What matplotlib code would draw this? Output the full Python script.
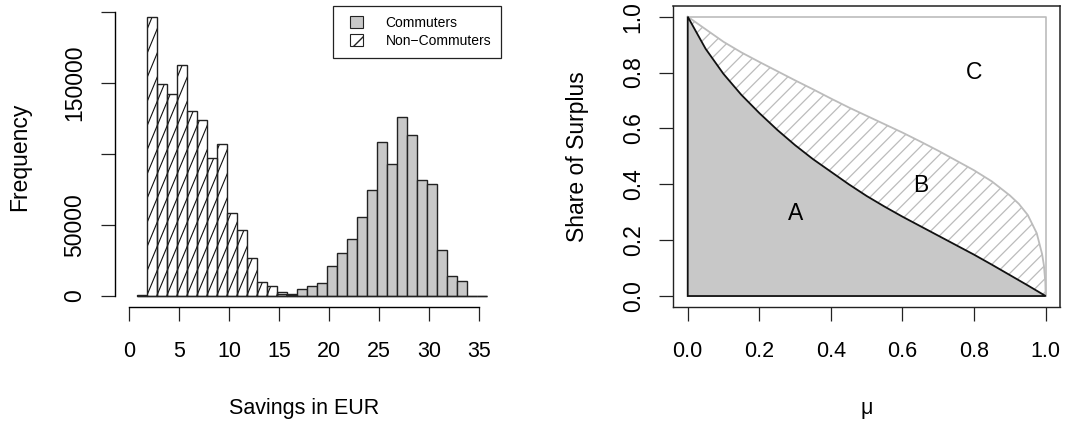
import numpy as np
import matplotlib
matplotlib.use("Agg")
import matplotlib.pyplot as plt
from matplotlib.collections import LineCollection
from matplotlib.path import Path
from matplotlib.patches import Polygon, Patch, Rectangle
from matplotlib.legend_handler import HandlerPatch

plt.rcParams['font.family'] = ['Liberation Sans', 'DejaVu Sans']

# savings histogram, 1 EUR bins
bin_start = 0.74
n_bins = 35
non_commuters = [1000, 196000, 149300, 142300, 162300, 129900, 123600, 97300,
                 106900, 58400, 46600, 26900, 9800, 7000, 2800, 1000] + [0] * 19
commuters = [0] * 13 + [300, 1200, 1500, 5100, 7000, 9400, 21100, 30000, 40100,
                        55800, 74300, 108500, 93100, 125700, 113500, 81400, 78600,
                        32400, 14300, 10600, 200, 100]
hist_labels = ["Commuters", "Non\u2212Commuters"]

# surplus split over mu
mu = [0.0, 0.05, 0.1, 0.15, 0.2, 0.25, 0.3, 0.35, 0.4, 0.45, 0.5, 0.55, 0.6,
      0.65, 0.7, 0.75, 0.8, 0.85, 0.9, 0.95, 1.0]
share_a = [1.0, 0.885, 0.795, 0.72, 0.655, 0.595, 0.54, 0.49, 0.445, 0.40,
           0.358, 0.32, 0.284, 0.25, 0.216, 0.182, 0.148, 0.112, 0.075, 0.038, 0.0]
mu_b = [0.0, 0.05, 0.1, 0.15, 0.2, 0.25, 0.3, 0.35, 0.4, 0.45, 0.5, 0.55, 0.6,
        0.65, 0.7, 0.75, 0.8, 0.85, 0.9, 0.925, 0.95, 0.975, 0.99, 0.995, 0.999, 1.0]
share_ab = [1.0, 0.955, 0.91, 0.872, 0.838, 0.805, 0.772, 0.74, 0.707, 0.675,
            0.645, 0.615, 0.585, 0.553, 0.52, 0.485, 0.45, 0.41, 0.36, 0.33,
            0.29, 0.225, 0.15, 0.11, 0.05, 0.0]
region_labels = {"A": (0.30, 0.296), "B": (0.65, 0.397), "C": (0.80, 0.80)}

GRAY = "#c8c8c8"
LIGHT = "#bcbcbc"
FS = 16.5     # rotated text
FSH = 15.5    # horizontal text
W, H = 1070, 422

fig = plt.figure(figsize=(W / 100, H / 100), dpi=100)

# ---- left: histogram
ax1 = fig.add_axes([115 / W, 1 - 307.1 / H, (501 - 115) / W, (307.1 - 6.2) / H])
edges = bin_start + np.arange(n_bins + 1)
ymax = max(non_commuters)
ax1.set_xlim(-1.43, 37.17)
ax1.set_ylim(-0.04 * ymax, 1.04 * ymax)

ax1.bar(edges[:-1], commuters, width=1, align="edge", color=GRAY,
        edgecolor="#222222", linewidth=1.0, zorder=2)
ax1.bar(edges[:-1], non_commuters, width=1, align="edge", fill=False,
        edgecolor="#222222", linewidth=1.0, zorder=3)

# diagonal shading inside the non-commuter bars
verts, codes = [], []
for x, h in zip(edges[:-1], non_commuters):
    if h > 0:
        verts += [(x, 0), (x + 1, 0), (x + 1, h), (x, h), (x, 0)]
        codes += [Path.MOVETO, Path.LINETO, Path.LINETO, Path.LINETO, Path.CLOSEPOLY]
bar_path = Path(verts, codes)
rise = 17000
segs = [[(x0, 0), (x0 + 13, 13 * rise)] for x0 in np.arange(edges[0] - 13, edges[-1], 1.0)]
hatch = LineCollection(segs, colors="#111111", linewidths=0.8, zorder=2.5)
ax1.add_collection(hatch)
hatch.set_clip_path(bar_path, ax1.transData)

for s in ["top", "right"]:
    ax1.spines[s].set_visible(False)
ax1.spines["bottom"].set_bounds(0, 35)
ax1.spines["left"].set_bounds(0, 200000)
ax1.set_xticks(range(0, 36, 5))
ax1.set_yticks([0, 50000, 100000, 150000, 200000])
ax1.set_yticklabels(["0", "50000", "", "150000", ""])


def small_box(legend, orig_handle, xdescent, ydescent, width, height, fontsize):
    side = 9
    return Rectangle((-xdescent + 5.5, -ydescent + (height - side) / 2), side, side)


leg = ax1.legend(
    handles=[Patch(facecolor=GRAY, edgecolor="#222222", linewidth=0.8),
             Patch(facecolor="white", edgecolor="#222222", hatch="/", linewidth=0.8)],
    labels=hist_labels, loc="upper right", borderaxespad=0, fancybox=False,
    edgecolor="#222222", framealpha=1, fontsize=10, handlelength=2.0,
    handleheight=0.7, handletextpad=1.1, borderpad=0.7, labelspacing=0.28,
    handler_map={Patch: HandlerPatch(patch_func=small_box)})
leg.get_frame().set_linewidth(0.9)

# ---- right: surplus shares
ax2 = fig.add_axes([673.4 / W, 1 - 307.2 / H, (1060 - 673.4) / W, (307.2 - 5.5) / H])
ax2.set_xlim(-0.04, 1.04)
ax2.set_ylim(-0.04, 1.04)

ax2.plot([0, 1, 1], [1, 1, 0], color=LIGHT, lw=1.2, zorder=1)
ax2.add_patch(Polygon([(0, 0)] + list(zip(mu, share_a)) + [(1, 0)], closed=True,
                      facecolor=GRAY, edgecolor="#111111", lw=1.3, zorder=3))
ax2.plot(mu_b, share_ab, color=LIGHT, lw=1.3, zorder=2)

# 45 degree shading between the two curves
px_x = (1060 - 673.4) / 1.08
px_y = (307.2 - 5.5) / 1.08
slope = px_x / px_y
step = 13.5 / px_x
region_b = Polygon(list(zip(mu_b, share_ab)) + list(zip(mu[::-1], share_a[::-1])),
                   closed=True, facecolor="none", edgecolor="none")
ax2.add_patch(region_b)
segs_b = [[(x0, 0), (x0 + 1.2, 1.2 * slope)] for x0 in np.arange(-1.2, 1.05, step)]
hatch_b = LineCollection(segs_b, colors=LIGHT, linewidths=0.9, zorder=2)
ax2.add_collection(hatch_b)
hatch_b.set_clip_path(region_b)

for name, (x, y) in region_labels.items():
    ax2.text(x, y, name, fontsize=FS, ha="center", va="center", zorder=4)

ticks = np.arange(0, 1.01, 0.2)
ax2.set_xticks(ticks)
ax2.set_yticks(ticks)
ax2.set_xticklabels([f"{t:.1f}" for t in ticks])
ax2.set_yticklabels([f"{t:.1f}" for t in ticks])
for s in ax2.spines.values():
    s.set_linewidth(1.1)
    s.set_color("#222222")

for ax in (ax1, ax2):
    ax.tick_params(axis="both", length=10, width=0.9, color="#222222")
    ax.tick_params(axis="x", pad=14.3, labelsize=FSH)
    ax.tick_params(axis="y", pad=10.7, labelsize=FS, labelrotation=90)
    plt.setp(ax.get_yticklabels(), va="center")
    for s in ("left", "bottom"):
        ax.spines[s].set_linewidth(1.0)

fig.text(304 / W, 1 - 414.4 / H, "Savings in EUR", fontsize=FSH,
         ha="center", va="baseline")
fig.text(19.4 / W, 1 - 156.6 / H, "Frequency", fontsize=FS, ha="center", va="center",
         rotation=90)
fig.text(866.7 / W, 1 - 413.6 / H, "\u03bc", fontsize=FSH, ha="center", va="baseline")
fig.text(577.8 / W, 1 - 156.4 / H, "Share of Surplus", fontsize=FS, ha="center",
         va="center", rotation=90)

fig.savefig("out.png", dpi=100)
